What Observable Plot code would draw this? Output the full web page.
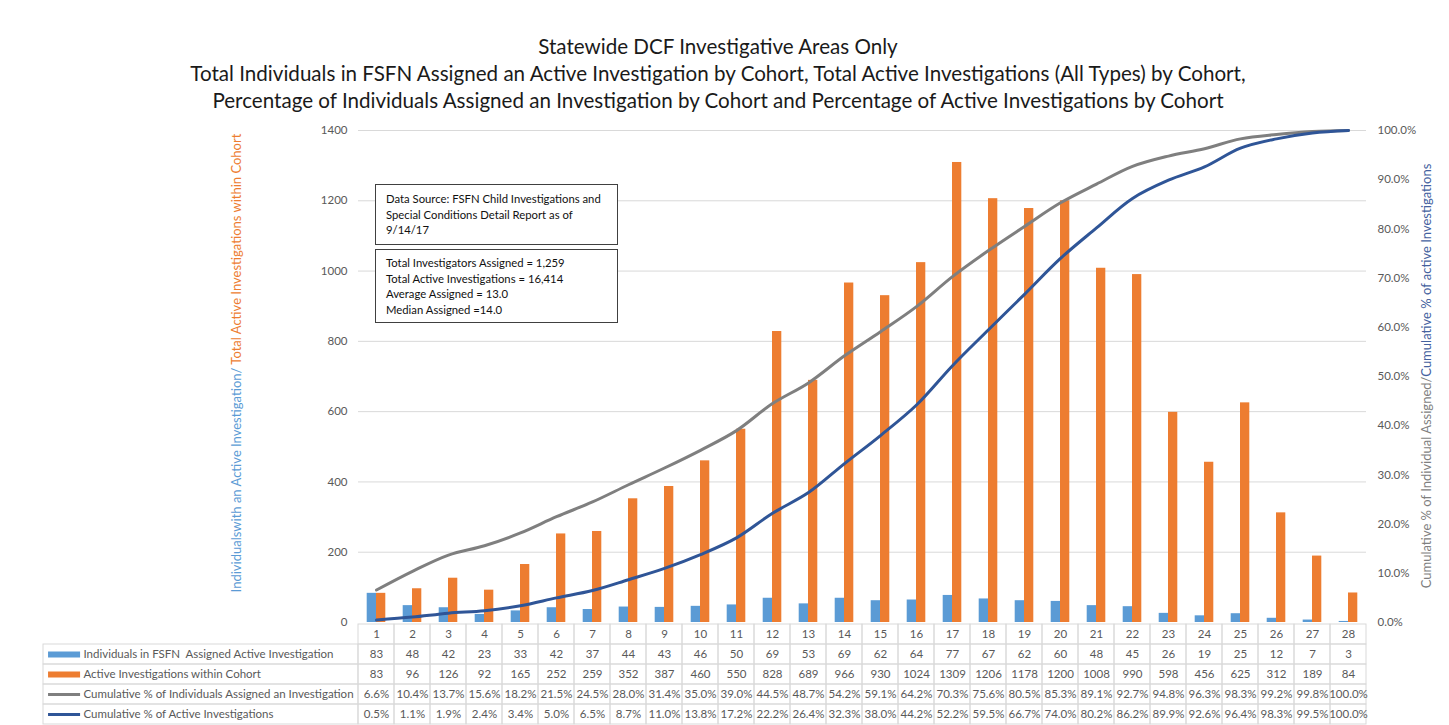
<!DOCTYPE html>
<html><head><meta charset="utf-8">
<script src="https://cdn.jsdelivr.net/npm/d3@7"></script>
<script src="https://cdn.jsdelivr.net/npm/@observablehq/plot@0.6"></script>
<style>
body{margin:0;background:#fff;font-family:Lato,"Open Sans",sans-serif;}
#wrap{position:relative;width:1449px;height:725px;overflow:hidden;background:#fff;}
#main,#table{position:absolute;left:0;}
#main{top:0}
#table{top:622px}
.title{position:absolute;left:0;width:1436px;top:33px;text-align:center;font-size:20.6px;line-height:27px;color:#1a1a1a;}
.box{position:absolute;box-sizing:border-box;border:1.5px solid #404040;background:#fff;font-size:11.3px;line-height:15.5px;color:#111;padding-left:10px;left:375px;width:243px;}
.ylab{position:absolute;white-space:nowrap;font-size:13px;transform:translate(-50%,-50%) rotate(-90deg);}
</style>
</head><body>
<div id="wrap">
  <div id="table"></div>
  <div id="main"></div>
</div>
<script>
// ---- data ----
const cohorts = [1,2,3,4,5,6,7,8,9,10,11,12,13,14,15,16,17,18,19,20,21,22,23,24,25,26,27,28];
const individuals = [83,48,42,23,33,42,37,44,43,46,50,69,53,69,62,64,77,67,62,60,48,45,26,19,25,12,7,3];
const active = [83,96,126,92,165,252,259,352,387,460,550,828,689,966,930,1024,1309,1206,1178,1200,1008,990,598,456,625,312,189,84];
const cumInd = [6.6,10.4,13.7,15.6,18.2,21.5,24.5,28.0,31.4,35.0,39.0,44.5,48.7,54.2,59.1,64.2,70.3,75.6,80.5,85.3,89.1,92.7,94.8,96.3,98.3,99.2,99.8,100.0];
const cumAct = [0.5,1.1,1.9,2.4,3.4,5.0,6.5,8.7,11.0,13.8,17.2,22.2,26.4,32.3,38.0,44.2,52.2,59.5,66.7,74.0,80.2,86.2,89.9,92.6,96.4,98.3,99.5,100.0];
const leftTicks = [0,200,400,600,800,1000,1200,1400];
const rightTicks = [0,10,20,30,40,50,60,70,80,90,100];
const seriesNames = ["Individuals in FSFN  Assigned Active Investigation","Active Investigations within Cohort","Cumulative % of Individuals Assigned an Investigation","Cumulative % of Active Investigations"];
const titleLines = ["Statewide DCF Investigative Areas Only","Total Individuals in FSFN Assigned an Active Investigation by Cohort, Total Active Investigations (All Types) by Cohort,","Percentage of Individuals Assigned an Investigation by Cohort and Percentage of Active Investigations by Cohort"];
const noteSource = ["Data Source: FSFN Child Investigations and","Special Conditions Detail Report as of","9/14/17"];
const noteStats = ["Total Investigators Assigned = 1,259","Total Active Investigations = 16,414","Average Assigned = 13.0","Median Assigned =14.0"];

const C = {blue:"#5b9bd5", orange:"#ed7d31", gray:"#7f7f7f", navy:"#2f5597", grid:"#d9d9d9", text:"#595959"};
const rows = cohorts.map((c,i)=>({cohort:c, individuals:individuals[i], active:active[i], cumInd:cumInd[i], cumAct:cumAct[i]}));
const scale = 1400/100; // right axis % mapped onto the left axis range

const main = Plot.plot({
  width:1449, height:640, marginTop:130, marginBottom:18, marginLeft:358, marginRight:83,
  style:{fontFamily:"Lato", fontSize:"11.5px", background:"transparent"},
  x:{type:"band", domain:cohorts, padding:0, axis:null},
  y:{domain:[0,1400], axis:null},
  marks:[
    Plot.gridY(leftTicks.filter(d=>d>0), {stroke:C.grid, strokeOpacity:1}),
    Plot.barY(rows, {x:"cohort", y:"individuals", fill:C.blue, insetLeft:8.7, insetRight:18}),
    Plot.barY(rows, {x:"cohort", y:"active", fill:C.orange, insetLeft:18, insetRight:8.7}),
    Plot.line(rows, {x:"cohort", y:d=>d.cumInd*scale, stroke:C.gray, strokeWidth:3, curve:"catmull-rom"}),
    Plot.line(rows, {x:"cohort", y:d=>d.cumAct*scale, stroke:C.navy, strokeWidth:3, curve:"catmull-rom"}),
    Plot.axisY(leftTicks, {anchor:"left", tickSize:0, tickPadding:11, label:null, fill:C.text, fontSize:11.5, tickFormat:d=>String(d)}),
    Plot.axisY(rightTicks.map(d=>d*scale), {anchor:"right", tickSize:0, tickPadding:11, label:null, fill:C.text, fontSize:11.5, tickFormat:d=>(d/scale).toFixed(1)+"%"})
  ]
});
document.getElementById("main").appendChild(main);

// ---- data table below the chart ----
const rowKeys = ["cohort","individuals","active","cumInd","cumAct"];
const fmt = {cohort:d=>String(d.cohort), individuals:d=>String(d.individuals), active:d=>String(d.active), cumInd:d=>d.cumInd.toFixed(1)+"%", cumAct:d=>d.cumAct.toFixed(1)+"%"};
const cells = [];
rows.forEach(r=>rowKeys.forEach(k=>cells.push({cohort:r.cohort, row:k, text:fmt[k](r)})));
const legendRows = rowKeys.slice(1).map((k,i)=>({key:k, label:seriesNames[i],
  color:[C.blue,C.orange,C.gray,C.navy][i], w:[6,6,3,3][i]}));
const labelLeft = -8.75;

const table = Plot.plot({
  width:1449, height:103, marginTop:1, marginBottom:1, marginLeft:43, marginRight:83,
  style:{fontFamily:"Lato", fontSize:"11.5px", background:"transparent"},
  x:{domain:[labelLeft,28], axis:null},
  y:{type:"band", domain:rowKeys, padding:0, axis:null},
  marks:[
    Plot.barX(cells, {x1:d=>d.cohort-1, x2:d=>d.cohort, y:"row", fill:"none", stroke:C.grid}),
    Plot.barX(legendRows, {x1:labelLeft, x2:0, y:"key", fill:"none", stroke:C.grid}),
    Plot.text(cells, {x:d=>d.cohort-0.5, y:"row", text:"text", fill:C.text, fontSize:11.5}),
    Plot.ruleY(legendRows, {y:"key", x1:labelLeft+0.14, x2:labelLeft+1.03, stroke:"color", strokeWidth:"w"}),
    Plot.text(legendRows, {x:labelLeft+1.11, y:"key", text:"label", textAnchor:"start", fill:C.text, fontSize:11.5})
  ]
});
document.getElementById("table").appendChild(table);

// ---- HTML overlays: title, notes, axis titles ----
const wrap = document.getElementById("wrap");
const t = document.createElement("div"); t.className="title";
t.innerHTML = titleLines.join("<br>"); wrap.appendChild(t);

function box(lines, top, h, pt){
  const b=document.createElement("div"); b.className="box";
  b.style.top=top+"px"; b.style.height=h+"px"; b.style.paddingTop=pt+"px";
  b.innerHTML=lines.join("<br>"); wrap.appendChild(b);
}
box(noteSource,184,61,6);
box(noteStats,249,74,5);

const yl=document.createElement("div"); yl.className="ylab";
yl.style.left="236px"; yl.style.top="363px";
yl.innerHTML='<span style="color:#5b9bd5">Individualswith an Active Investigation/</span><span style="color:#ed7d31"> Total Active Investigations within Cohort</span>';
wrap.appendChild(yl);
const yr=document.createElement("div"); yr.className="ylab";
yr.style.left="1426px"; yr.style.top="376px";
yr.innerHTML='<span style="color:#7f7f7f">Cumulative % of Individual Assigned/</span><span style="color:#44619e">Cumulative % of active Investigations</span>';
wrap.appendChild(yr);
</script>
</body></html>
